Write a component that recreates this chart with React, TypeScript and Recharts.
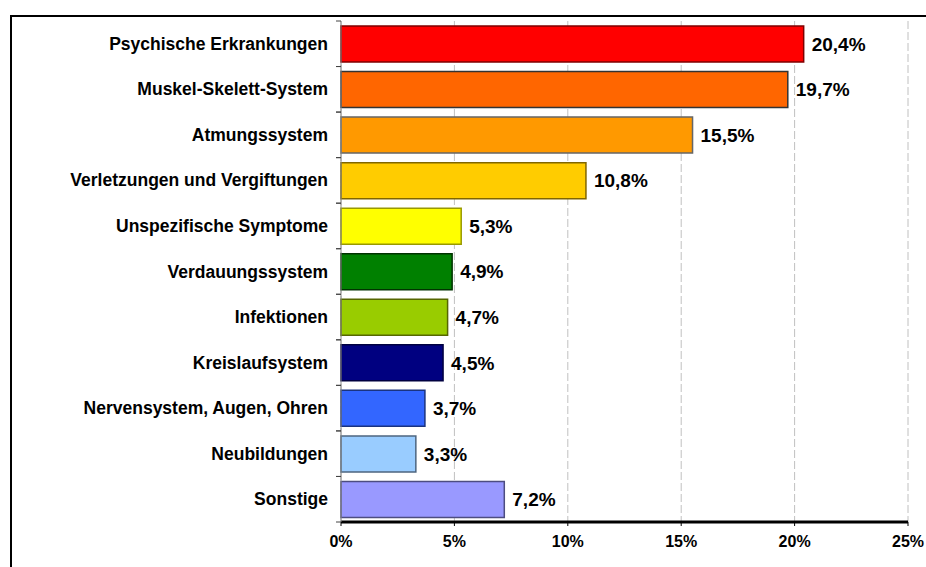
import { BarChart, Bar, XAxis, YAxis, CartesianGrid, LabelList, Cell } from "recharts";

const categories = [
  "Psychische Erkrankungen",
  "Muskel-Skelett-System",
  "Atmungssystem",
  "Verletzungen und Vergiftungen",
  "Unspezifische Symptome",
  "Verdauungssystem",
  "Infektionen",
  "Kreislaufsystem",
  "Nervensystem, Augen, Ohren",
  "Neubildungen",
  "Sonstige",
];
const shares = [20.4, 19.7, 15.5, 10.8, 5.3, 4.9, 4.7, 4.5, 3.7, 3.3, 7.2];
const fills = [
  "#FF0000", "#FF6600", "#FF9900", "#FFCC00", "#FFFF00", "#008000",
  "#99CC00", "#000080", "#3366FF", "#99CCFF", "#9999FF",
];
const strokes = [
  "#800000", "#333333", "#666666", "#806600", "#999900", "#003300",
  "#556600", "#000040", "#1a3380", "#4d6680", "#4d4d80",
];
const xTicks = [0, 5, 10, 15, 20, 25];

const data = categories.map((name, i) => ({ name, value: shares[i] }));

const W = 926;
const H = 567;
const TOP = 21;
const AXIS_H = 30;
const BOTTOM = 15;
const band = (H - TOP - BOTTOM - AXIS_H) / categories.length;

const FONT = "Liberation Sans, Arial, sans-serif";
const fmt = (v: number) => `${v.toFixed(1).replace(".", ",")}%`;

const CatTick = (props: any) => {
  const { x, y, payload } = props;
  return (
    <g>
      <line x1={x - 5} x2={x} y1={y - band / 2} y2={y - band / 2} stroke="#444" />
      <line x1={x - 5} x2={x} y1={y + band / 2} y2={y + band / 2} stroke="#444" />
      <text
        x={x - 13}
        y={y}
        dy={6}
        textAnchor="end"
        fontFamily={FONT}
        fontWeight="bold"
        fontSize={17.5}
        fill="#000"
      >
        {payload.value}
      </text>
    </g>
  );
};

export default function App() {
  return (
    <div style={{ position: "absolute", left: 0, top: 0, width: W, height: H, overflow: "hidden", background: "#fff" }}>
      <div
        style={{
          position: "absolute",
          left: 10,
          top: 15,
          width: 940,
          height: 600,
          border: "2px solid #000",
        }}
      />
      <BarChart
        width={W}
        height={H}
        data={data}
        layout="vertical"
        margin={{ top: TOP, right: 18, bottom: BOTTOM, left: 0 }}
        barCategoryGap="11%"
        style={{ position: "absolute", left: 0, top: 0 }}
      >
        <CartesianGrid horizontal={false} stroke="#c0c0c0" strokeDasharray="8 3" />
        <XAxis
          type="number"
          domain={[0, 25]}
          ticks={xTicks}
          height={AXIS_H}
          tickFormatter={(v: number) => `${v}%`}
          axisLine={{ stroke: "#000", strokeWidth: 3 }}
          tickLine={{ stroke: "#000" }}
          tickSize={4}
          tickMargin={10}
          tick={{ fontFamily: FONT, fontWeight: "bold", fontSize: 16, fill: "#000" }}
          interval={0}
        />
        <YAxis
          type="category"
          dataKey="name"
          width={341}
          axisLine={{ stroke: "#888" }}
          tickLine={false}
          tickSize={0}
          tickMargin={0}
          tick={<CatTick />}
          interval={0}
        />
        <Bar dataKey="value" isAnimationActive={false}>
          {data.map((d, i) => (
            <Cell key={d.name} fill={fills[i]} stroke={strokes[i]} strokeWidth={1.5} />
          ))}
          <LabelList
            dataKey="value"
            position="right"
            offset={8}
            formatter={(v: any) => fmt(Number(v))}
            style={{ fontFamily: FONT, fontWeight: "bold", fontSize: 19, fill: "#000" }}
          />
        </Bar>
      </BarChart>
    </div>
  );
}
